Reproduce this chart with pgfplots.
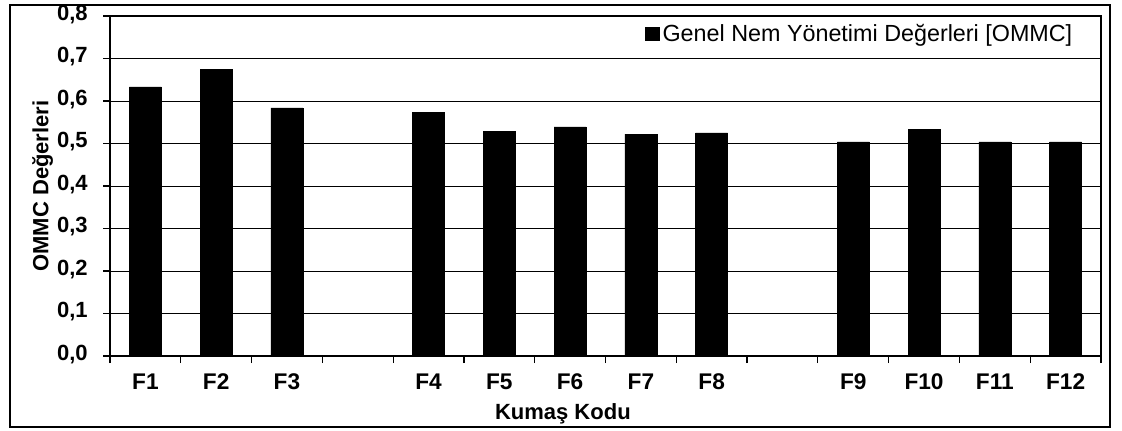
\documentclass[border=0pt]{standalone}
\usepackage{pgfplots}
\pgfplotsset{compat=1.18}
\usepackage{fontspec}
\setmainfont{Liberation Sans}
\begin{document}
\begin{tikzpicture}
\path[use as bounding box] (0,0) rectangle (841.5pt,322.5pt);
\draw[line width=1.1pt] (7.5pt,2.25pt) rectangle (832.5pt,318.75pt);
\begin{axis}[
  at={(82.5pt,55.5pt)}, anchor=south west, scale only axis,
  width=743.25pt, height=255pt,
  xmin=-0.5, xmax=13.5, ymin=0, ymax=0.8,
  ytick={0,0.1,0.2,0.3,0.4,0.5,0.6,0.7,0.8},
  xtick={0,1,2,4,5,6,7,8,10,11,12,13},
  xticklabels={F1,F2,F3,F4,F5,F6,F7,F8,F9,F10,F11,F12},
  minor xtick={-0.5,0.5,1.5,2.5,3.5,4.5,5.5,6.5,7.5,8.5,9.5,10.5,11.5,12.5,13.5},
  major x tick style={draw=none},
  tick align=outside,
  xtick pos=bottom, ytick pos=left,
  major tick length=5.25pt, minor tick length=5.25pt,
  ymajorgrids, grid style={black, line width=0.75pt},
  axis line style={black, line width=0.9pt},
  tick style={black, line width=0.9pt},
  /pgf/number format/assume math mode=true,
  typeset ticklabels with strut,
  yticklabel style={/pgf/number format/.cd, fixed, fixed zerofill, precision=1, use comma, /tikz/.cd, font=\bfseries\fontsize{16.5}{16.5}\selectfont, xshift=-8pt},
  xticklabel style={font=\bfseries\fontsize{17}{17}\selectfont, yshift=-4.5pt},
  xlabel={Kumaş Kodu},
  ylabel={OMMC Değerleri},
  xlabel style={font=\bfseries\fontsize{16.5}{16.5}\selectfont, at={(axis description cs:0.457,-0.125)}, anchor=north},
  ylabel style={font=\bfseries\fontsize{16.5}{16.5}\selectfont, at={(axis description cs:-0.068,0.5)}, anchor=center},
  legend style={at={(rel axis cs:0.974,0.985)}, anchor=north east, draw=none, fill=none, font=\fontsize{17.5}{17.5}\selectfont, inner sep=0pt},
  legend image code/.code={\fill[black] (0pt,-5pt) rectangle (10.5pt,5pt);},
]
\addplot[ybar, bar width=24pt, fill=black, draw=black, bar shift=0pt] coordinates {
  (0,0.633) (1,0.675) (2,0.584) (4,0.574) (5,0.529) (6,0.539) (7,0.522) (8,0.525)
  (10,0.504) (11,0.534) (12,0.504) (13,0.504)
};
\addlegendentry{Genel Nem Yönetimi Değerleri [OMMC]}
\end{axis}
\end{tikzpicture}
\end{document}
